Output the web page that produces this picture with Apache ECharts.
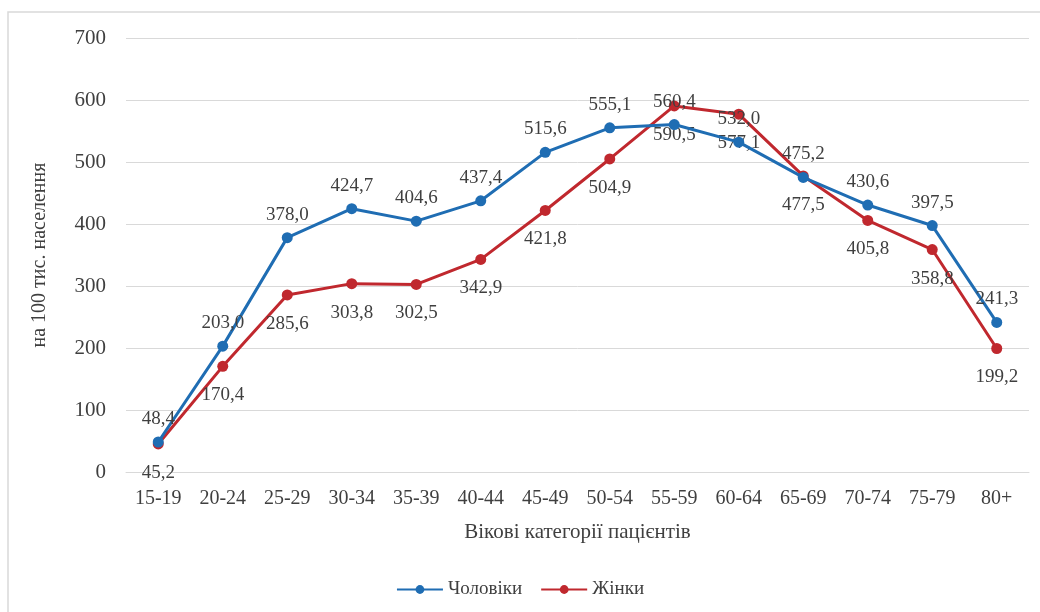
<!DOCTYPE html>
<html>
<head>
<meta charset="utf-8">
<script src="https://cdn.jsdelivr.net/npm/echarts@6/dist/echarts.min.js"></script>
<style>
  html, body { margin: 0; padding: 0; background: #fff; }
  #chart { width: 1040px; height: 612px; }
</style>
</head>
<body>
<div id="chart"></div>
<script>
// Age groups of patients
const categories = ['15-19', '20-24', '25-29', '30-34', '35-39', '40-44', '45-49',
                    '50-54', '55-59', '60-64', '65-69', '70-74', '75-79', '80+'];
// Rates per 100 thousand population
const men   = [48.4, 203.0, 378.0, 424.7, 404.6, 437.4, 515.6, 555.1, 560.4, 532.0, 475.2, 430.6, 397.5, 241.3];
const women = [45.2, 170.4, 285.6, 303.8, 302.5, 342.9, 421.8, 504.9, 590.5, 577.1, 477.5, 405.8, 358.8, 199.2];
const yTicks = [0, 100, 200, 300, 400, 500, 600, 700];

const fmt = v => v.toFixed(1).replace('.', ',');
const FONT = '"Liberation Serif", "DejaVu Serif", serif';
const TEXT = '#3f3f3f';

const chart = echarts.init(document.getElementById('chart'), null, { renderer: 'canvas' });
chart.setOption({
  animation: false,
  backgroundColor: '#ffffff',
  textStyle: { fontFamily: FONT },
  graphic: [{
    type: 'rect',
    shape: { x: 8, y: 12, width: 1060, height: 640 },
    style: { fill: 'none', stroke: '#d9d9d9', lineWidth: 1.5 },
    silent: true
  }],
  grid: { left: 126, right: 11, top: 38, bottom: 140 },
  legend: {
    bottom: 8,
    left: 'center',
    itemWidth: 46,
    itemHeight: 11,
    itemGap: 18,
    textStyle: { fontFamily: FONT, fontSize: 19, color: TEXT },
    data: ['Чоловіки', 'Жінки']
  },
  xAxis: {
    type: 'category',
    data: categories,
    boundaryGap: true,
    name: 'Вікові категорії пацієнтів',
    nameLocation: 'middle',
    nameGap: 50,
    nameTextStyle: { fontFamily: FONT, fontSize: 21, color: TEXT },
    axisLine: { show: true, lineStyle: { color: '#d9d9d9', width: 1 } },
    axisTick: { show: false },
    axisLabel: { fontFamily: FONT, fontSize: 20, color: TEXT, margin: 17 }
  },
  yAxis: {
    type: 'value',
    min: yTicks[0],
    max: yTicks[yTicks.length - 1],
    interval: 100,
    name: 'на 100 тис. населення',
    nameLocation: 'middle',
    nameGap: 76,
    nameRotate: 90,
    nameTextStyle: { fontFamily: FONT, fontSize: 20, color: TEXT },
    axisLine: { show: false },
    axisTick: { show: false },
    axisLabel: { fontFamily: FONT, fontSize: 21, color: TEXT, margin: 20 },
    splitLine: { lineStyle: { color: '#d9d9d9', width: 1 } }
  },
  series: [
    {
      name: 'Чоловіки',
      type: 'line',
      data: men,
      color: '#1f6db3',
      symbol: 'circle',
      symbolSize: 11,
      lineStyle: { width: 3 },
      label: {
        show: true, position: 'top', distance: 8,
        fontFamily: FONT, fontSize: 19, color: TEXT,
        formatter: p => fmt(p.value)
      },
      z: 3
    },
    {
      name: 'Жінки',
      type: 'line',
      data: women,
      color: '#c0282e',
      symbol: 'circle',
      symbolSize: 11,
      lineStyle: { width: 3 },
      label: {
        show: true, position: 'bottom', distance: 14,
        fontFamily: FONT, fontSize: 19, color: TEXT,
        formatter: p => fmt(p.value)
      },
      z: 2
    }
  ]
});
</script>
</body>
</html>
